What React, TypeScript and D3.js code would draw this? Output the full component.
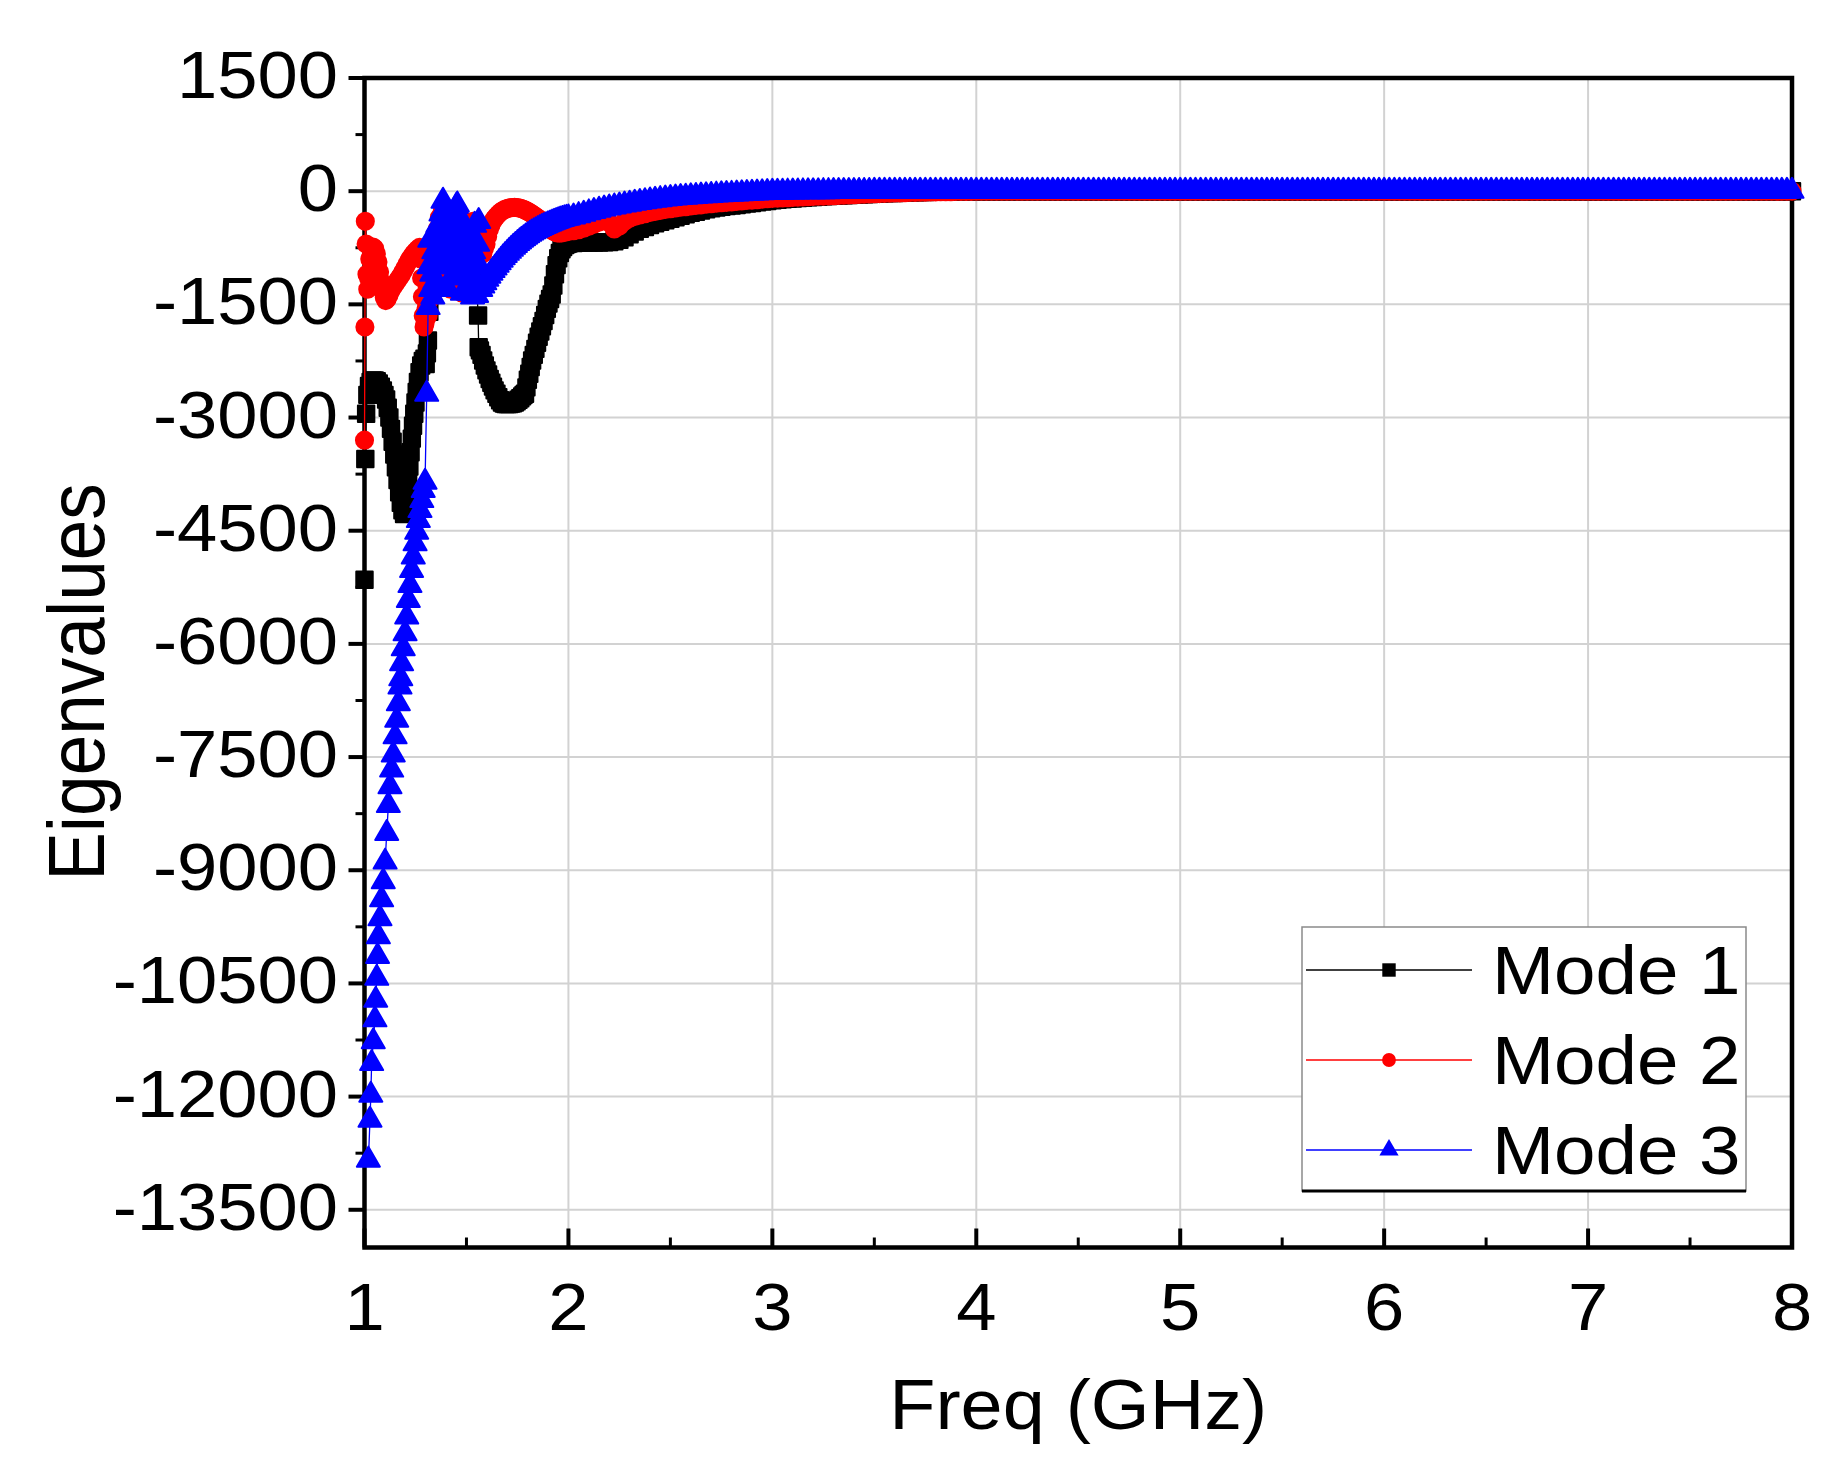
import React from 'react';
import * as d3 from 'd3';

// canvas and plot frame
const W = 1842;
const H = 1471;
const plot = { left: 364.5, right: 1792, top: 78, bottom: 1247.5 };
const FONT = "'Liberation Sans', Arial, sans-serif";
const STRETCH = 1.08;

// axes
const xTicks = [1, 2, 3, 4, 5, 6, 7, 8];
const xMinorTicks = [1.5, 2.5, 3.5, 4.5, 5.5, 6.5, 7.5];
const yTicks = [1500, 0, -1500, -3000, -4500, -6000, -7500, -9000, -10500, -12000, -13500];
const yMinorTicks = [750, -750, -2250, -3750, -5250, -6750, -8250, -9750, -11250, -12750];

// Mode 1, 1 - 3 GHz  [freq, eigenvalue]
const mode1Main: [number, number][] = [
  [1.000, -5150], [1.004, -3550], [1.008, -2950], [1.014, -2700], [1.022, -2580], [1.030, -2530],
  [1.040, -2510], [1.050, -2510], [1.060, -2520], [1.070, -2550], [1.080, -2590], [1.090, -2640],
  [1.098, -2700], [1.106, -2760], [1.114, -2870], [1.122, -3000], [1.130, -3150], [1.138, -3320],
  [1.146, -3490], [1.154, -3660], [1.162, -3830], [1.170, -3990], [1.178, -4130], [1.186, -4230],
  [1.194, -4280], [1.202, -4200], [1.208, -4030], [1.214, -3840], [1.220, -3650], [1.226, -3460],
  [1.232, -3280], [1.238, -3110], [1.244, -2950], [1.250, -2800], [1.256, -2660], [1.262, -2530],
  [1.270, -2400], [1.278, -2310], [1.286, -2250], [1.294, -2220], [1.300, -2290], [1.306, -2150],
  [1.311, -1980], [1.318, -1600], [1.326, -1250], [1.334, -1100], [1.342, -1000], [1.350, -900],
  [1.358, -1050], [1.366, -850], [1.374, -750], [1.382, -900], [1.390, -1050], [1.398, -850],
  [1.406, -950], [1.414, -1100], [1.422, -900], [1.430, -800], [1.438, -950], [1.446, -1050],
  [1.454, -1150], [1.462, -1000], [1.470, -1100], [1.478, -1200], [1.486, -1150], [1.494, -1200],
  [1.502, -1100], [1.510, -1200], [1.518, -1150], [1.526, -1250], [1.534, -1200], [1.542, -1250],
  [1.550, -1200], [1.557, -1648], [1.560, -2068], [1.566, -2110], [1.574, -2170], [1.582, -2244],
  [1.590, -2310], [1.598, -2375], [1.606, -2430], [1.614, -2490], [1.622, -2540], [1.630, -2590],
  [1.638, -2640], [1.647, -2685], [1.656, -2730], [1.665, -2770], [1.674, -2800], [1.683, -2815],
  [1.692, -2820], [1.701, -2820], [1.710, -2820], [1.719, -2815], [1.728, -2810], [1.737, -2800],
  [1.746, -2785], [1.755, -2765], [1.764, -2745], [1.773, -2720], [1.780, -2700], [1.787, -2685],
  [1.794, -2600], [1.801, -2500], [1.808, -2420], [1.815, -2330], [1.822, -2244], [1.830, -2170],
  [1.838, -2090], [1.846, -2010], [1.854, -1930], [1.862, -1860], [1.870, -1790], [1.878, -1720],
  [1.886, -1640], [1.894, -1560], [1.902, -1490], [1.910, -1430], [1.918, -1370], [1.926, -1250],
  [1.934, -1100], [1.942, -980], [1.950, -890], [1.958, -820], [1.966, -770], [1.974, -740],
  [1.984, -715], [1.992, -700], [2.000, -695], [2.025, -688], [2.050, -684], [2.075, -682],
  [2.100, -680], [2.125, -680], [2.150, -680], [2.175, -678], [2.200, -675], [2.225, -665],
  [2.250, -645], [2.275, -610], [2.300, -570], [2.325, -535], [2.350, -500], [2.375, -475],
  [2.400, -450], [2.425, -425], [2.450, -405], [2.475, -385], [2.500, -365], [2.525, -345],
  [2.550, -325], [2.575, -305], [2.600, -288], [2.625, -272], [2.650, -256], [2.675, -240],
  [2.700, -228], [2.725, -217], [2.750, -207], [2.775, -198], [2.800, -190], [2.825, -182],
  [2.850, -174], [2.875, -165], [2.900, -156], [2.925, -147], [2.950, -138], [2.975, -129],
  [3.000, -120],
];

// Mode 2, 1 - 3 GHz
const mode2Main: [number, number][] = [
  [1.000, -3300], [1.002, -1800], [1.004, -400], [1.008, -700], [1.012, -1100], [1.016, -1300],
  [1.020, -1150], [1.026, -900], [1.034, -760], [1.042, -740], [1.050, -760], [1.058, -830],
  [1.066, -940], [1.074, -1070], [1.082, -1200], [1.090, -1320], [1.097, -1410], [1.104, -1450],
  [1.111, -1430], [1.120, -1380], [1.130, -1320], [1.140, -1270], [1.150, -1230], [1.160, -1190],
  [1.170, -1150], [1.180, -1110], [1.190, -1060], [1.200, -1010], [1.210, -960], [1.220, -910],
  [1.230, -870], [1.240, -830], [1.250, -800], [1.260, -770], [1.270, -745], [1.276, -900],
  [1.280, -1150], [1.284, -1400], [1.288, -1650], [1.292, -1800], [1.297, -1750], [1.302, -1550],
  [1.307, -1300], [1.312, -1650], [1.317, -1450], [1.322, -1100], [1.327, -1350], [1.332, -800],
  [1.337, -1150], [1.342, -600], [1.347, -900], [1.352, -1250], [1.357, -500], [1.362, -850],
  [1.367, -350], [1.372, -1050], [1.377, -650], [1.382, -250], [1.387, -900], [1.392, -450],
  [1.397, -1200], [1.402, -700], [1.407, -350], [1.412, -1000], [1.417, -550], [1.422, -1300],
  [1.427, -800], [1.432, -400], [1.437, -1100], [1.442, -300], [1.447, -650], [1.452, -950],
  [1.457, -250], [1.462, -1150], [1.467, -550], [1.472, -850], [1.477, -1350], [1.482, -600],
  [1.487, -1000], [1.492, -400], [1.497, -1250], [1.502, -750], [1.507, -1050], [1.512, -500],
  [1.517, -900], [1.522, -1300], [1.527, -650], [1.532, -400], [1.537, -1000], [1.542, -750],
  [1.547, -550], [1.552, -1100], [1.557, -850], [1.562, -500], [1.567, -1150], [1.572, -500],
  [1.576, -1100], [1.580, -830], [1.588, -760], [1.596, -700], [1.604, -600], [1.612, -510],
  [1.620, -450], [1.628, -405], [1.636, -370], [1.646, -335], [1.656, -305], [1.666, -280],
  [1.676, -260], [1.686, -245], [1.696, -233], [1.706, -225], [1.716, -219], [1.726, -216],
  [1.736, -215], [1.746, -217], [1.756, -221], [1.766, -228], [1.776, -237], [1.786, -248],
  [1.796, -261], [1.806, -276], [1.816, -293], [1.826, -311], [1.836, -330], [1.846, -350],
  [1.856, -370], [1.866, -390], [1.876, -410], [1.886, -435], [1.896, -460], [1.906, -485],
  [1.916, -510], [1.926, -530], [1.936, -545], [1.946, -553], [1.956, -555], [1.966, -552],
  [1.976, -546], [1.986, -540], [2.000, -535], [2.025, -525], [2.050, -510], [2.075, -490],
  [2.100, -465], [2.125, -437], [2.150, -410], [2.175, -392], [2.200, -420], [2.225, -500],
  [2.250, -460], [2.275, -400], [2.300, -360], [2.325, -335], [2.350, -315], [2.375, -298],
  [2.400, -282], [2.425, -268], [2.450, -255], [2.475, -243], [2.500, -232], [2.525, -222],
  [2.550, -213], [2.575, -205], [2.600, -197], [2.625, -189], [2.650, -181], [2.675, -174],
  [2.700, -167], [2.725, -160], [2.750, -154], [2.775, -148], [2.800, -142], [2.825, -136],
  [2.850, -130], [2.875, -124], [2.900, -118], [2.925, -112], [2.950, -106], [2.975, -100],
  [3.000, -95],
];

// Mode 3, 1 - 3 GHz
const mode3Main: [number, number][] = [
  [1.019, -12840], [1.027, -12310], [1.031, -11980], [1.035, -11560], [1.043, -11270], [1.051, -10980],
  [1.055, -10720], [1.060, -10430], [1.064, -10140], [1.068, -9880], [1.076, -9640], [1.084, -9390],
  [1.092, -9150], [1.101, -8890], [1.109, -8510], [1.117, -8140], [1.125, -7890], [1.133, -7670],
  [1.141, -7470], [1.150, -7230], [1.158, -7010], [1.166, -6790], [1.174, -6570], [1.178, -6459],
  [1.182, -6260], [1.190, -6061], [1.199, -5863], [1.207, -5642], [1.215, -5422], [1.223, -5223],
  [1.231, -5024], [1.239, -4848], [1.248, -4671], [1.256, -4517], [1.264, -4362], [1.272, -4230],
  [1.281, -4098], [1.288, -3965], [1.297, -3855], [1.305, -2690], [1.312, -1540], [1.316, -1000],
  [1.320, -650], [1.325, -1300], [1.330, -1100], [1.335, -1400], [1.340, -800], [1.345, -1200],
  [1.350, -600], [1.355, -1000], [1.360, -450], [1.365, -1250], [1.370, -700], [1.375, -300],
  [1.380, -900], [1.385, -130], [1.390, -500], [1.395, -250], [1.400, -1000], [1.405, -600],
  [1.410, -1300], [1.415, -400], [1.420, -850], [1.425, -1150], [1.430, -550], [1.435, -300],
  [1.440, -950], [1.445, -250], [1.450, -200], [1.455, -180], [1.460, -700], [1.465, -400],
  [1.470, -1100], [1.475, -600], [1.480, -1350], [1.485, -800], [1.490, -450], [1.495, -1000],
  [1.500, -1300], [1.505, -550], [1.510, -900], [1.515, -1350], [1.520, -650], [1.525, -1100],
  [1.530, -1400], [1.535, -800], [1.540, -450], [1.545, -1200], [1.550, -1380], [1.555, -700],
  [1.560, -400], [1.565, -1000], [1.570, -1300], [1.580, -1255], [1.590, -1210], [1.600, -1165],
  [1.610, -1125], [1.620, -1085], [1.630, -1050], [1.640, -1015], [1.650, -980], [1.660, -945],
  [1.670, -912], [1.680, -880], [1.690, -850], [1.700, -822], [1.710, -795], [1.720, -768],
  [1.730, -742], [1.740, -717], [1.750, -693], [1.760, -670], [1.770, -648], [1.780, -627],
  [1.790, -607], [1.800, -588], [1.810, -570], [1.820, -553], [1.830, -537], [1.840, -522],
  [1.850, -507], [1.860, -493], [1.870, -480], [1.880, -467], [1.890, -455], [1.900, -443],
  [1.910, -432], [1.920, -421], [1.930, -410], [1.940, -400], [1.950, -390], [1.960, -380],
  [1.970, -372], [1.980, -365], [1.990, -358], [2.000, -352], [2.025, -340], [2.050, -322],
  [2.075, -304], [2.100, -285], [2.125, -267], [2.150, -250], [2.175, -235], [2.200, -220],
  [2.225, -207], [2.250, -194], [2.275, -182], [2.300, -170], [2.325, -158], [2.350, -147],
  [2.375, -137], [2.400, -127], [2.425, -118], [2.450, -110], [2.475, -102], [2.500, -95],
  [2.525, -88], [2.550, -82], [2.575, -77], [2.600, -72], [2.625, -67], [2.650, -62],
  [2.675, -58], [2.700, -54], [2.725, -50], [2.750, -46], [2.775, -43], [2.800, -40],
  [2.825, -36], [2.850, -32], [2.875, -29], [2.900, -26], [2.925, -22], [2.950, -19],
  [2.975, -16], [3.000, -13],
];

// 3 - 4 GHz, all three modes settle towards zero
const tailFreq = [
  3.025, 3.05, 3.075, 3.1, 3.125, 3.15, 3.175, 3.2, 3.225, 3.25,
  3.275, 3.3, 3.325, 3.35, 3.375, 3.4, 3.425, 3.45, 3.475, 3.5,
  3.525, 3.55, 3.575, 3.6, 3.625, 3.65, 3.675, 3.7, 3.725, 3.75,
  3.775, 3.8, 3.825, 3.85, 3.875, 3.9, 3.925, 3.95, 3.975, 4.0,
];
const mode1Tail = [
  -114, -108, -102, -97, -92, -87, -82, -78, -73, -69,
  -65, -61, -57, -53, -50, -46, -43, -40, -37, -34,
  -31, -28, -26, -23, -21, -18, -16, -14, -12, -11,
  -9, -8, -7, -6, -5, -4, -3, -3, -2, -2,
];
const mode2Tail = [
  -92, -89, -86, -83, -80, -77, -74, -71, -68, -65,
  -62, -59, -56, -53, -50, -47, -44, -41, -38, -35,
  -32, -29, -27, -24, -22, -20, -18, -16, -14, -12,
  -10, -9, -8, -7, -6, -5, -4, -3, -2, -1,
];
const mode3Tail = [
  -12, -11, -10, -9, -8, -7, -6, -6, -5, -4,
  -4, -3, -3, -2, -2, -2, -1, -1, -1, 0,
  0, 0, 0, 0, 0, 0, 0, 0, 0, 0,
  0, 0, 0, 0, 0, 0, 0, 0, 0, 0,
];

// 4 - 8 GHz, flat at zero for every mode
const flatFreq = [
  4.025, 4.05, 4.075, 4.1, 4.125, 4.15, 4.175, 4.2, 4.225, 4.25,
  4.275, 4.3, 4.325, 4.35, 4.375, 4.4, 4.425, 4.45, 4.475, 4.5,
  4.525, 4.55, 4.575, 4.6, 4.625, 4.65, 4.675, 4.7, 4.725, 4.75,
  4.775, 4.8, 4.825, 4.85, 4.875, 4.9, 4.925, 4.95, 4.975, 5.0,
  5.025, 5.05, 5.075, 5.1, 5.125, 5.15, 5.175, 5.2, 5.225, 5.25,
  5.275, 5.3, 5.325, 5.35, 5.375, 5.4, 5.425, 5.45, 5.475, 5.5,
  5.525, 5.55, 5.575, 5.6, 5.625, 5.65, 5.675, 5.7, 5.725, 5.75,
  5.775, 5.8, 5.825, 5.85, 5.875, 5.9, 5.925, 5.95, 5.975, 6.0,
  6.025, 6.05, 6.075, 6.1, 6.125, 6.15, 6.175, 6.2, 6.225, 6.25,
  6.275, 6.3, 6.325, 6.35, 6.375, 6.4, 6.425, 6.45, 6.475, 6.5,
  6.525, 6.55, 6.575, 6.6, 6.625, 6.65, 6.675, 6.7, 6.725, 6.75,
  6.775, 6.8, 6.825, 6.85, 6.875, 6.9, 6.925, 6.95, 6.975, 7.0,
  7.025, 7.05, 7.075, 7.1, 7.125, 7.15, 7.175, 7.2, 7.225, 7.25,
  7.275, 7.3, 7.325, 7.35, 7.375, 7.4, 7.425, 7.45, 7.475, 7.5,
  7.525, 7.55, 7.575, 7.6, 7.625, 7.65, 7.675, 7.7, 7.725, 7.75,
  7.775, 7.8, 7.825, 7.85, 7.875, 7.9, 7.925, 7.95, 7.975, 8.0,
];
const flatValues = [
  0, 0, 0, 0, 0, 0, 0, 0, 0, 0,
  0, 0, 0, 0, 0, 0, 0, 0, 0, 0,
  0, 0, 0, 0, 0, 0, 0, 0, 0, 0,
  0, 0, 0, 0, 0, 0, 0, 0, 0, 0,
  0, 0, 0, 0, 0, 0, 0, 0, 0, 0,
  0, 0, 0, 0, 0, 0, 0, 0, 0, 0,
  0, 0, 0, 0, 0, 0, 0, 0, 0, 0,
  0, 0, 0, 0, 0, 0, 0, 0, 0, 0,
  0, 0, 0, 0, 0, 0, 0, 0, 0, 0,
  0, 0, 0, 0, 0, 0, 0, 0, 0, 0,
  0, 0, 0, 0, 0, 0, 0, 0, 0, 0,
  0, 0, 0, 0, 0, 0, 0, 0, 0, 0,
  0, 0, 0, 0, 0, 0, 0, 0, 0, 0,
  0, 0, 0, 0, 0, 0, 0, 0, 0, 0,
  0, 0, 0, 0, 0, 0, 0, 0, 0, 0,
  0, 0, 0, 0, 0, 0, 0, 0, 0, 0,
];

const join = (main: [number, number][], tail: number[]): [number, number][] => [
  ...main,
  ...tailFreq.map((f, i) => [f, tail[i]] as [number, number]),
  ...flatFreq.map((f, i) => [f, flatValues[i]] as [number, number]),
];

const modes = [
  { name: 'Mode 1', color: '#000000', symbol: d3.symbolSquare, size: 270, legendSize: 180, points: join(mode1Main, mode1Tail) },
  { name: 'Mode 2', color: '#ff0000', symbol: d3.symbolCircle, size: 230, legendSize: 150, points: join(mode2Main, mode2Tail) },
  { name: 'Mode 3', color: '#0000ff', symbol: d3.symbolTriangle, size: 230, legendSize: 160, points: join(mode3Main, mode3Tail) },
];

// text with the slight horizontal stretch of the original figure
const Label = ({ x, y, size, anchor = 'start', rotate = 0, children }: any) => (
  <text
    transform={`translate(${x},${y}) scale(${STRETCH},1)${rotate ? ` rotate(${rotate})` : ''}`}
    fontFamily={FONT}
    fontSize={size}
    textAnchor={anchor}
    fill="#000"
  >
    {children}
  </text>
);

const App = () => {
  const x = d3.scaleLinear().domain([1, 8]).range([plot.left, plot.right]);
  const y = d3.scaleLinear().domain([-14000, 1500]).range([plot.bottom, plot.top]);

  const line = d3.line<[number, number]>()
    .x(d => x(d[0]))
    .y(d => y(d[1]));

  const legend = { x0: 1302, y0: 927, x1: 1746, y1: 1191, rows: [970, 1060, 1150] };

  return (
    <svg
      width={W}
      height={H}
      viewBox={`0 0 ${W} ${H}`}
      style={{ position: 'absolute', left: 0, top: 0, display: 'block' }}
    >
      <rect width={W} height={H} fill="#fff" />

      {/* grid */}
      <g stroke="#d2d2d2" strokeWidth={2}>
        {yTicks.map(t => (
          <line key={`gy${t}`} x1={plot.left} x2={plot.right} y1={y(t)} y2={y(t)} />
        ))}
        {xTicks.map(t => (
          <line key={`gx${t}`} x1={x(t)} x2={x(t)} y1={plot.top} y2={plot.bottom} />
        ))}
      </g>

      {/* frame */}
      <rect
        x={plot.left}
        y={plot.top}
        width={plot.right - plot.left}
        height={plot.bottom - plot.top}
        fill="none"
        stroke="#000"
        strokeWidth={4.5}
      />

      {/* y ticks, outward */}
      <g stroke="#000">
        {yTicks.map(t => (
          <line key={`ty${t}`} x1={plot.left - 16} x2={plot.left} y1={y(t)} y2={y(t)} strokeWidth={4} />
        ))}
        {yMinorTicks.map(t => (
          <line key={`my${t}`} x1={plot.left - 9} x2={plot.left} y1={y(t)} y2={y(t)} strokeWidth={3} />
        ))}
        {/* x ticks, inward */}
        {xTicks.map(t => (
          <line key={`tx${t}`} x1={x(t)} x2={x(t)} y1={plot.bottom} y2={plot.bottom - 19} strokeWidth={4} />
        ))}
        {xMinorTicks.map(t => (
          <line key={`mx${t}`} x1={x(t)} x2={x(t)} y1={plot.bottom} y2={plot.bottom - 10} strokeWidth={3} />
        ))}
      </g>

      {/* tick labels */}
      {yTicks.map(t => (
        <Label key={`ly${t}`} x={338} y={y(t) + 20} size={67} anchor="end">{String(t)}</Label>
      ))}
      {xTicks.map(t => (
        <Label key={`lx${t}`} x={x(t)} y={1330} size={67} anchor="middle">{String(t)}</Label>
      ))}

      {/* axis titles */}
      <Label x={(plot.left + plot.right) / 2} y={1429} size={70} anchor="middle">Freq (GHz)</Label>
      <Label x={104} y={682} size={73} anchor="middle" rotate={-90}>Eigenvalues</Label>

      {/* series */}
      {modes.map(m => {
        const sym = d3.symbol().type(m.symbol).size(m.size)();
        return (
          <g key={m.name}>
            <path d={line(m.points) ?? ''} fill="none" stroke={m.color} strokeWidth={1.3} />
            {m.points.map((p, i) => (
              <path
                key={i}
                d={sym ?? ''}
                transform={`translate(${x(p[0])},${y(p[1])})`}
                fill={m.color}
                stroke={m.color}
                strokeWidth={2}
                strokeLinejoin="round"
              />
            ))}
          </g>
        );
      })}

      {/* legend */}
      <rect
        x={legend.x0}
        y={legend.y0}
        width={legend.x1 - legend.x0}
        height={legend.y1 - legend.y0}
        fill="#fff"
        stroke="#8a8a8a"
        strokeWidth={1.5}
      />
      <line x1={legend.x0} x2={legend.x1} y1={legend.y1} y2={legend.y1} stroke="#000" strokeWidth={3} />
      {modes.map((m, i) => {
        const ly = legend.rows[i];
        const sym = d3.symbol().type(m.symbol).size(m.legendSize)();
        return (
          <g key={`lg${m.name}`}>
            <line x1={1306} x2={1472} y1={ly} y2={ly} stroke={m.color} strokeWidth={1.3} />
            <path d={sym ?? ''} transform={`translate(1389,${ly})`} fill={m.color} />
            <Label x={1492} y={ly + 24} size={69}>{m.name}</Label>
          </g>
        );
      })}
    </svg>
  );
};

export default App;
